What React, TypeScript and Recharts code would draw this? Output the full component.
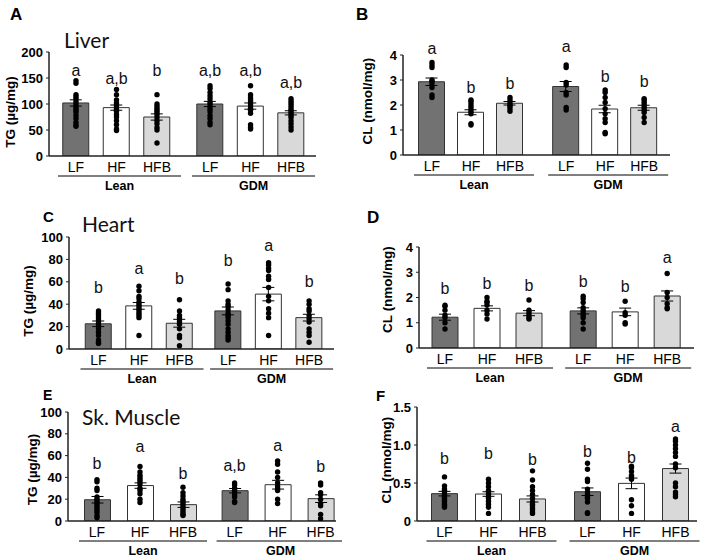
import { ComposedChart, Bar, Scatter, XAxis, YAxis, ErrorBar, ReferenceDot, Cell } from 'recharts'

const ARIAL = '"Liberation Sans", Arial, sans-serif'
const TITLE_FONT = 'Lato, "Open Sans", sans-serif'

const groups = ['Lean', 'GDM']
const diets = ['LF', 'HF', 'HFB']
const fills = ['#727272', '#ffffff', '#d9d9d9']

// A - liver TG (µg/mg)
const liverTgMeans = [102, 93, 75, 100, 96, 83]
const liverTgSem = [6, 5, 6, 5, 6, 4]
const liverTgPoints = [
  [145, 140, 118, 114, 110, 105, 100, 96, 92, 88, 84, 78, 72, 65, 60, 57],
  [128, 118, 108, 102, 98, 94, 90, 86, 80, 75, 68, 60, 52, 49],
  [118, 100, 96, 92, 88, 84, 80, 74, 68, 62, 55, 50, 25],
  [135, 130, 122, 116, 110, 104, 100, 95, 90, 85, 78, 72, 65, 60],
  [135, 118, 112, 108, 104, 100, 96, 92, 88, 82, 60, 55, 52],
  [110, 106, 102, 98, 94, 90, 86, 82, 78, 74, 68, 62, 56, 50],
]
const liverTgLetters = ['a', 'a,b', 'b', 'a,b', 'a,b', 'a,b']
const liverTgLetterY = [165, 150, 165, 165, 165, 142]

// B - liver CL (nmol/mg)
const liverClMeans = [2.93, 1.71, 2.07, 2.74, 1.84, 1.89]
const liverClSem = [0.15, 0.1, 0.07, 0.2, 0.15, 0.1]
const liverClPoints = [
  [3.7, 3.6, 3.5, 3.0, 2.95, 2.85, 2.7, 2.4, 2.3],
  [2.2, 2.15, 2.05, 1.95, 1.85, 1.75, 1.65, 1.25, 1.2],
  [2.3, 2.2, 2.1, 2.0, 1.95, 1.85, 1.75],
  [3.6, 3.5, 2.9, 2.8, 2.5, 2.4, 1.9, 1.8],
  [2.6, 2.5, 2.3, 2.1, 1.85, 1.65, 1.45, 1.3, 0.9, 0.85],
  [2.25, 2.2, 2.1, 2.0, 1.9, 1.8, 1.7, 1.5, 1.3],
]
const liverClLetters = ['a', 'b', 'b', 'a', 'b', 'b']
const liverClLetterY = [4.28, 2.72, 2.88, 4.33, 3.16, 2.93]

// C - heart TG (µg/mg)
const heartTgMeans = [22.5, 38.5, 23, 34, 49, 28]
const heartTgSem = [2.5, 3, 3.5, 3.5, 6, 3]
const heartTgPoints = [
  [34, 32, 30, 28, 26, 24, 22, 20, 18, 15, 12, 8, 6, 5],
  [56, 52, 47, 45, 42, 40, 38, 36, 34, 32, 30, 28, 12],
  [44, 34, 30, 28, 26, 24, 22, 18, 12, 10, 3],
  [58, 53, 43, 40, 38, 35, 32, 30, 28, 25, 22, 18, 15, 12, 10, 8],
  [77, 75, 72, 70, 65, 62, 55, 47, 43, 36, 32, 28, 12],
  [43, 40, 36, 34, 30, 27, 24, 18, 15, 12, 6],
]
const heartTgLetters = ['b', 'a', 'b', 'b', 'a', 'b']
const heartTgLetterY = [55, 72, 63, 79, 92.5, 60]

// D - heart CL (nmol/mg)
const heartClMeans = [1.22, 1.57, 1.38, 1.47, 1.43, 2.06]
const heartClSem = [0.12, 0.1, 0.1, 0.12, 0.15, 0.2]
const heartClPoints = [
  [1.7, 1.65, 1.5, 1.3, 1.2, 1.0, 0.75],
  [2.0, 1.85, 1.8, 1.7, 1.5, 1.35, 1.15],
  [1.9, 1.5, 1.4, 1.3, 1.2, 1.15],
  [2.05, 1.95, 1.8, 1.6, 1.5, 1.4, 1.3, 1.2, 1.0, 0.75],
  [1.85, 1.4, 1.3, 1.0, 0.95],
  [2.95, 2.2, 2.0, 1.75, 1.6, 1.55],
]
const heartClLetters = ['b', 'b', 'b', 'b', 'b', 'a']
const heartClLetterY = [2.36, 2.56, 2.49, 2.62, 2.43, 3.6]

// E - skeletal muscle TG (µg/mg)
const muscleTgMeans = [19.5, 32.5, 15, 27.8, 33.3, 20.5]
const muscleTgSem = [3, 2.5, 2.5, 2, 4, 3.5]
const muscleTgPoints = [
  [38, 36, 30, 28, 22, 20, 18, 16, 14, 12, 10, 8, 5, 3],
  [50, 45, 42, 40, 38, 36, 34, 30, 28, 25, 20, 17],
  [31, 26, 23, 20, 18, 16, 14, 12, 10, 8, 6, 5],
  [35, 33, 30, 28, 26, 24, 22, 18, 17],
  [55, 52, 45, 40, 35, 32, 30, 28, 20, 16],
  [35, 33, 26, 24, 20, 16, 14, 6, 2],
]
const muscleTgLetters = ['b', 'a', 'b', 'a,b', 'a', 'b']
const muscleTgLetterY = [53, 68, 44, 51, 69, 50]

// F - skeletal muscle CL (nmol/mg)
const muscleClMeans = [0.36, 0.355, 0.29, 0.385, 0.495, 0.69]
const muscleClSem = [0.03, 0.03, 0.04, 0.05, 0.07, 0.06]
const muscleClPoints = [
  [0.58, 0.46, 0.42, 0.4, 0.38, 0.35, 0.32, 0.3, 0.27, 0.25, 0.22, 0.2, 0.18],
  [0.55, 0.5, 0.45, 0.4, 0.38, 0.35, 0.32, 0.3, 0.26, 0.22, 0.18, 0.1],
  [0.66, 0.54, 0.45, 0.4, 0.35, 0.3, 0.25, 0.22, 0.2, 0.17, 0.15, 0.12, 0.1],
  [0.76, 0.68, 0.55, 0.52, 0.42, 0.38, 0.35, 0.32, 0.3, 0.25, 0.11, 0.1],
  [0.72, 0.7, 0.65, 0.6, 0.58, 0.55, 0.28, 0.2, 0.1],
  [1.08, 1.05, 1.0, 0.95, 0.9, 0.85, 0.75, 0.7, 0.5, 0.45, 0.38, 0.35, 0.32],
]
const muscleClLetters = ['b', 'b', 'b', 'b', 'b', 'a']
const muscleClLetterY = [0.82, 0.89, 0.81, 0.91, 0.84, 1.24]

const tgLabel = 'TG (µg/mg)'
const clLabel = 'CL (nmol/mg)'

const panels = [
  {
    means: liverTgMeans, sem: liverTgSem, points: liverTgPoints, letters: liverTgLetters, letterY: liverTgLetterY,
    yMax: 200, ticks: [0, 50, 100, 150, 200], yLabel: tgLabel,
    left: 0, x0: 49, x1: 316, top: 52, bottom: 156, first: 76, unit: 40.5, gap: 1.31, ldx: 10, ldy: 8,
  },
  {
    means: liverClMeans, sem: liverClSem, points: liverClPoints, letters: liverClLetters, letterY: liverClLetterY,
    yMax: 4, ticks: [0, 1, 2, 3, 4], yLabel: clLabel,
    left: 354, x0: 403, x1: 670, top: 55, bottom: 155, first: 432, unit: 39, gap: 1.44, ldx: 13, ldy: -4,
  },
  {
    means: heartTgMeans, sem: heartTgSem, points: heartTgPoints, letters: heartTgLetters, letterY: heartTgLetterY,
    yMax: 100, ticks: [0, 20, 40, 60, 80, 100], yLabel: tgLabel,
    left: 0, x0: 69, x1: 334, top: 237, bottom: 349, first: 98.5, unit: 40.5, gap: 1.2, ldx: 28, ldy: 8,
  },
  {
    means: heartClMeans, sem: heartClSem, points: heartClPoints, letters: heartClLetters, letterY: heartClLetterY,
    yMax: 4, ticks: [0, 1, 2, 3, 4], yLabel: clLabel,
    left: 354, x0: 419, x1: 694, top: 247, bottom: 348, first: 445, unit: 42, gap: 1.29, ldx: 33, ldy: -8,
  },
  {
    means: muscleTgMeans, sem: muscleTgSem, points: muscleTgPoints, letters: muscleTgLetters, letterY: muscleTgLetterY,
    yMax: 100, ticks: [0, 20, 40, 60, 80, 100], yLabel: tgLabel,
    left: 0, x0: 68, x1: 336, top: 412, bottom: 521, first: 97, unit: 43, gap: 1.2, ldx: 32, ldy: 3,
  },
  {
    means: muscleClMeans, sem: muscleClSem, points: muscleClPoints, letters: muscleClLetters, letterY: muscleClLetterY,
    yMax: 1.5, ticks: [0, 0.5, 1, 1.5], yLabel: clLabel, decimals: true,
    left: 354, x0: 417, x1: 697, top: 407, bottom: 521, first: 444.5, unit: 44, gap: 1.25, ldx: 32, ldy: -4,
  },
]

function CatTick(props: any) {
  const { x, y, index, unit } = props
  const g = index % 3 === 1
  return (
    <g>
      <text x={x} y={y + 11} textAnchor="middle" dominantBaseline="central" fontSize={14} fontFamily={ARIAL} fill="#000">
        {diets[index % 3]}
      </text>
      {g && (
        <>
          <line x1={x - unit - 18} x2={x + unit + 24} y1={y + 20} y2={y + 20} stroke="#000" strokeWidth={1} />
          <text x={x + 3} y={y + 30} textAnchor="middle" dominantBaseline="central" fontSize={12.5} fontWeight="bold" fontFamily={ARIAL} fill="#000">
            {groups[Math.floor(index / 3)]}
          </text>
        </>
      )}
    </g>
  )
}

function Panel({ p }: { p: any }) {
  const pos = [0, 1, 2, 2 + p.gap, 3 + p.gap, 4 + p.gap]
  const mt = 30
  const xh = 44
  const T = p.top - mt
  const W = p.x1 - p.left + 6
  const H = p.bottom - T + xh
  const dMin = -(p.first - p.x0) / p.unit
  const dMax = (p.x1 - p.first) / p.unit
  const bars = p.means.map((m: number, i: number) => ({ x: pos[i], mean: m, err: p.sem[i] }))
  const dots = p.points.flatMap((arr: number[], i: number) => arr.map((v) => ({ x: pos[i], y: v })))
  const yTitle = (lp: any) => {
    const vb = lp.viewBox
    const cx = vb.x + p.ldx
    const cy = vb.y + vb.height / 2 + p.ldy
    return (
      <text x={cx} y={cy} transform={`rotate(-90 ${cx} ${cy})`} textAnchor="middle" dominantBaseline="central"
        fontSize={13.5} fontWeight="bold" fontFamily={ARIAL} fill="#000">
        {p.yLabel}
      </text>
    )
  }
  return (
    <div style={{ position: 'absolute', left: p.left, top: T }}>
      <ComposedChart width={W} height={H} data={bars} margin={{ top: mt, right: 6, left: 0, bottom: 0 }}>
        <XAxis
          dataKey="x"
          type="number"
          domain={[dMin, dMax]}
          allowDataOverflow
          ticks={pos}
          interval={0}
          height={xh}
          tickSize={0}
          tickMargin={0}
          tickLine={false}
          axisLine={{ stroke: '#222', strokeWidth: 1.5 }}
          tick={(tp: any) => <CatTick {...tp} unit={p.unit} />}
        />
        <YAxis
          type="number"
          width={p.x0 - p.left}
          domain={[0, p.yMax]}
          allowDataOverflow
          ticks={p.ticks}
          interval={0}
          tickSize={3}
          tickMargin={3}
          tickLine={{ stroke: '#222' }}
          axisLine={{ stroke: '#222', strokeWidth: 1.5 }}
          tick={{ fontSize: 13, fontWeight: 700, fill: '#000', fontFamily: ARIAL }}
          tickFormatter={(v: number) => (p.decimals && v !== 0 ? v.toFixed(1) : String(v))}
          label={{ content: yTitle }}
        />
        <Bar dataKey="mean" barSize={26} stroke="#333" strokeWidth={1} isAnimationActive={false}>
          {bars.map((_: any, i: number) => (
            <Cell key={i} fill={fills[i % 3]} />
          ))}
          <ErrorBar dataKey="err" direction="y" width={6} stroke="#000" strokeWidth={1} />
        </Bar>
        <Scatter
          data={dots}
          dataKey="y"
          isAnimationActive={false}
          shape={(sp: any) => <circle cx={sp.cx} cy={sp.cy} r={2.7} fill="#000" />}
        />
        {p.letters.map((l: string, i: number) => (
          <ReferenceDot
            key={i}
            x={pos[i]}
            y={p.letterY[i]}
            ifOverflow="visible"
            shape={(rp: any) => (
              <text x={rp.cx} y={rp.cy} textAnchor="middle" dominantBaseline="central" fontSize={16} fontFamily={ARIAL} fill="#111">
                {l}
              </text>
            )}
          />
        ))}
      </ComposedChart>
    </div>
  )
}

const panelLetters = [
  { t: 'A', x: 10, y: 20, s: 17 },
  { t: 'B', x: 356, y: 20, s: 17 },
  { t: 'C', x: 43, y: 222, s: 15 },
  { t: 'D', x: 367, y: 223, s: 17 },
  { t: 'E', x: 43, y: 400, s: 14 },
  { t: 'F', x: 376, y: 401, s: 15 },
]
const titles = [
  { t: 'Liver', x: 64, y: 48 },
  { t: 'Heart', x: 82, y: 232 },
  { t: 'Sk. Muscle', x: 82, y: 425 },
]

export default function App() {
  return (
    <div style={{ position: 'absolute', left: 0, top: 0, width: 708, height: 557, overflow: 'hidden', background: '#fff' }}>
      {panels.map((p, i) => (
        <Panel key={i} p={p} />
      ))}
      <svg width={708} height={557} style={{ position: 'absolute', left: 0, top: 0, pointerEvents: 'none' }}>
        {panelLetters.map((l) => (
          <text key={l.t} x={l.x} y={l.y} fontSize={l.s} fontWeight="bold" fontFamily={ARIAL} fill="#000">
            {l.t}
          </text>
        ))}
        {titles.map((t) => (
          <text key={t.t} x={t.x} y={t.y} fontSize={21} fontFamily={TITLE_FONT} fill="#111">
            {t.t}
          </text>
        ))}
      </svg>
    </div>
  )
}
